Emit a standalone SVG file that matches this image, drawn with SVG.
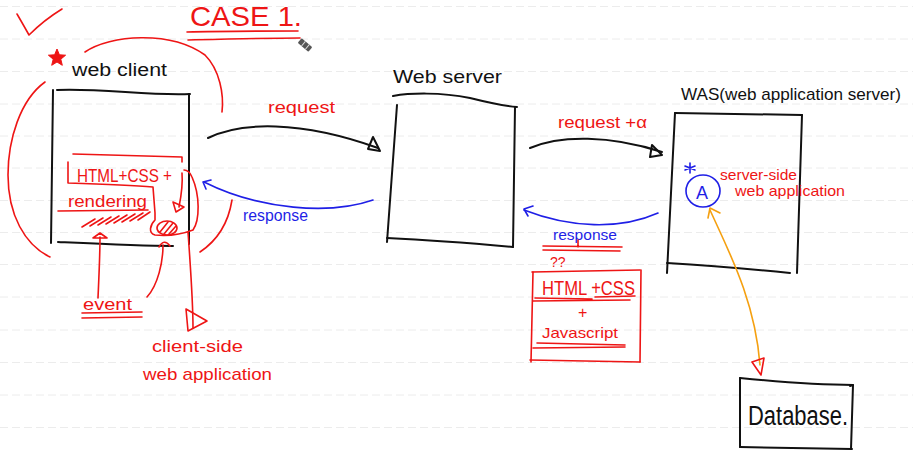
<svg xmlns="http://www.w3.org/2000/svg" width="913" height="459" viewBox="0 0 913 459">
  <style>
    text { font-family: "Liberation Sans", "DejaVu Sans", sans-serif; }
    .ink { fill: none; stroke: #111; stroke-width: 2; stroke-linecap: round; stroke-linejoin: round; }
    .red { fill: none; stroke: #ee1515; stroke-width: 1.6; stroke-linecap: round; stroke-linejoin: round; }
    .blue { fill: none; stroke: #1f1fe6; stroke-width: 1.6; stroke-linecap: round; stroke-linejoin: round; }
    .orange { fill: none; stroke: #f5a010; stroke-width: 1.6; stroke-linecap: round; stroke-linejoin: round; }
    .rule { stroke: #ececec; stroke-width: 1; stroke-dasharray: 8 4; }
    .tk { fill: #111; }
    .tr { fill: #ee1515; }
    .tb { fill: #1f1fe6; }
  </style>

  <rect width="913" height="459" fill="#ffffff"/>

  <!-- ruled notebook lines -->
  <g id="rules">
    <line class="rule" x1="0" y1="6.5" x2="913" y2="6.5"/>
    <line class="rule" x1="0" y1="39" x2="913" y2="39"/>
    <line class="rule" x1="0" y1="71.5" x2="913" y2="71.5"/>
    <line class="rule" x1="0" y1="104" x2="913" y2="104"/>
    <line class="rule" x1="0" y1="136" x2="913" y2="136"/>
    <line class="rule" x1="0" y1="168" x2="913" y2="168"/>
    <line class="rule" x1="0" y1="200.5" x2="913" y2="200.5"/>
    <line class="rule" x1="0" y1="232.5" x2="913" y2="232.5"/>
    <line class="rule" x1="0" y1="264.5" x2="913" y2="264.5"/>
    <line class="rule" x1="0" y1="297" x2="913" y2="297"/>
    <line class="rule" x1="0" y1="330" x2="913" y2="330"/>
    <line class="rule" x1="0" y1="362.5" x2="913" y2="362.5"/>
    <line class="rule" x1="0" y1="395" x2="913" y2="395"/>
    <line class="rule" x1="0" y1="427.5" x2="913" y2="427.5"/>
  </g>

  <!-- heading -->
  <g id="title">
    <path class="red" d="M17,14 Q24,26 29,35 Q44,20 62,9"/>
    <text class="tr" x="190" y="26" font-size="28" textLength="112" lengthAdjust="spacingAndGlyphs">CASE 1.</text>
    <path class="red" d="M187,32 C220,31 260,31 298,31"/>
    <path class="red" d="M188,40 C230,39 270,38 300,38"/>
    <g transform="translate(305,45) rotate(40)">
      <rect x="-7" y="-3" width="14" height="6" rx="1" fill="#555"/>
      <line x1="-2" y1="-3" x2="-2" y2="3" stroke="#ddd" stroke-width="1"/>
      <line x1="3" y1="-3" x2="3" y2="3" stroke="#ddd" stroke-width="1"/>
    </g>
  </g>

  <!-- web client -->
  <g id="web-client">
    <polygon fill="#ee1515" stroke="#ee1515" stroke-width="1" points="57,49 59.4,54.8 65.6,55.2 60.8,59.2 62.3,65.3 57,62 51.7,65.3 53.2,59.2 48.4,55.2 54.6,54.8"/>
    <text class="tk" x="72" y="76" font-size="18" textLength="95" lengthAdjust="spacingAndGlyphs">web client</text>
    <path class="red" d="M85,52 C110,35 170,30 205,55 C220,70 224,95 222,112"/>
    <path class="red" d="M45,82 C20,100 8,140 8,175 C8,215 25,245 50,257"/>
    <path class="red" d="M232,200 C228,225 215,242 200,252"/>
    <path class="ink" d="M57,90 C100,88 150,96 190,94"/>
    <path class="ink" d="M53,90 L51,243"/>
    <path class="ink" d="M189,94 L189,244"/>
    <path class="ink" d="M58,242 C100,244 140,246 173,246"/>
  </g>

  <!-- rendering notes inside the client -->
  <g id="client-rendering">
    <path class="red" d="M73,154 L182,157 L182,162"/>
    <path class="red" d="M68,162 L68,183 C100,184 130,185 153,187 L155,213 L155,220 C150,225 148,233 155,235 C165,236 180,235 193,230 C200,220 200,195 192,177 C190,172 187,170 184,170"/>
    <text class="tr" x="77" y="182" font-size="18" textLength="95" lengthAdjust="spacingAndGlyphs">HTML+CSS +</text>
    <text class="tr" x="68" y="207" font-size="17" textLength="79" lengthAdjust="spacingAndGlyphs">rendering</text>
    <path class="red" d="M58,211 L148,210"/>
    <path class="red" d="M82,227 l13,-8 M90,226 l13,-8 M98,225 l13,-8 M106,224 l13,-8 M114,223 l13,-8 M122,222 l13,-8 M130,221 l13,-8 M138,220 l12,-8"/>
    <path class="red" d="M182,173 C183,185 181,197 179,207"/>
    <path class="red" d="M173,202 L184,207 L176,212 Z"/>
    <ellipse class="red" cx="167" cy="228" rx="10" ry="7"/>
    <path class="red" d="M160,232 L168,222 M164,234 L173,223 M169,234 L176,226"/>
  </g>

  <!-- event labels -->
  <g id="event">
    <text class="tr" x="83" y="310" font-size="17" textLength="49" lengthAdjust="spacingAndGlyphs">event</text>
    <path class="red" d="M82,313 L142,312"/>
    <path class="red" d="M82,318 L142,317"/>
  </g>

  <!-- client-side app label -->
  <g id="client-side-app">
    <text class="tr" x="152" y="352" font-size="17" textLength="91" lengthAdjust="spacingAndGlyphs">client-side</text>
    <text class="tr" x="143" y="380" font-size="17" textLength="129" lengthAdjust="spacingAndGlyphs">web application</text>
  </g>

  <!-- web server -->
  <g id="web-server">
    <text class="tk" x="393" y="83" font-size="19" textLength="109" lengthAdjust="spacingAndGlyphs">Web server</text>
    <path class="ink" d="M393,96 C410,93 440,92 470,98 C490,103 505,106 517,107"/>
    <path class="ink" d="M397,105 L387,242"/>
    <path class="ink" d="M515,107 L513,247"/>
    <path class="ink" d="M387,238 C430,240 480,244 513,247"/>
  </g>

  <!-- web application server -->
  <g id="was">
    <text class="tk" x="681" y="100" font-size="17" textLength="220" lengthAdjust="spacingAndGlyphs">WAS(web application server)</text>
    <path class="ink" d="M675,113 L802,115"/>
    <path class="ink" d="M675,113 L667,273"/>
    <path class="ink" d="M802,115 L797,273"/>
    <path class="ink" d="M667,263 C700,265 760,270 790,273"/>
  </g>

  <!-- server-side app inside the WAS -->
  <g id="server-side-app">
    <ellipse class="blue" cx="703" cy="191" rx="17" ry="16"/>
    <text class="tb" x="696" y="199" font-size="18">A</text>
    <path class="blue" d="M690,163 L690,173 M685,166 L695,170 M685,170 L695,166"/>
    <text class="tr" x="720" y="180" font-size="15" textLength="77" lengthAdjust="spacingAndGlyphs">server-side</text>
    <text class="tr" x="735" y="196" font-size="15" textLength="110" lengthAdjust="spacingAndGlyphs">web application</text>
  </g>

  <!-- response payload -->
  <g id="payload">
    <text class="tr" x="550" y="267" font-size="14">??</text>
    <path class="red" d="M532,272 L640,270"/>
    <path class="red" d="M533,272 L531,362"/>
    <path class="red" d="M641,270 L640,362"/>
    <path class="red" d="M530,360 L640,362"/>
    <text class="tr" x="542" y="295" font-size="20" textLength="93" lengthAdjust="spacingAndGlyphs">HTML +CSS</text>
    <path class="red" d="M535,298 L592,299 M595,297 L635,296 M533,301 L630,300"/>
    <text class="tr" x="578" y="318" font-size="16">+</text>
    <text class="tr" x="542" y="338" font-size="15" textLength="76" lengthAdjust="spacingAndGlyphs">Javascript</text>
    <path class="red" d="M537,343 L625,345 M533,348 L625,347"/>
  </g>

  <!-- database -->
  <g id="database">
    <path class="ink" d="M740,378 C780,382 820,385 853,385"/>
    <path class="ink" d="M740,378 L740,447"/>
    <path class="ink" d="M740,447 L852,449"/>
    <path class="ink" d="M850,386 L853,385 L851,449"/>
    <text class="tk" x="748" y="425" font-size="27" textLength="100" lengthAdjust="spacingAndGlyphs">Database.</text>
  </g>

  <!-- connectors -->
  <g id="connectors">
    <!-- client -> web server -->
    <path class="ink" d="M208,138 C240,122 300,120 378,148"/>
    <path class="ink" d="M373,137 L380,151 L368,149 Z"/>
    <text class="tr" x="268" y="113" font-size="17" textLength="67" lengthAdjust="spacingAndGlyphs">request</text>
    <!-- web server -> client -->
    <path class="blue" d="M373,200 C330,215 260,210 204,182"/>
    <path class="blue" d="M211,180 L203,182 L206,189"/>
    <text class="tb" x="243" y="221" font-size="16" textLength="65" lengthAdjust="spacingAndGlyphs">response</text>
    <!-- web server -> WAS -->
    <path class="ink" d="M530,148 C560,135 610,135 662,152"/>
    <path class="ink" d="M652,145 L662,155 L650,157 Z"/>
    <text class="tr" x="558" y="128" font-size="17" textLength="89" lengthAdjust="spacingAndGlyphs">request +α</text>
    <!-- WAS -> web server -->
    <path class="blue" d="M658,213 C620,230 570,228 524,210"/>
    <path class="blue" d="M533,206 L524,209 L528,216"/>
    <text class="tb" x="553" y="240" font-size="15" textLength="64" lengthAdjust="spacingAndGlyphs">response</text>
    <path class="red" d="M543,246 L622,247 M543,250 L620,251 M578,240 L578,247"/>
    <!-- events -> client -->
    <path class="red" d="M98,298 C99,275 100,255 100,237"/>
    <path class="red" d="M93,238 L100,233 L107,238 Z"/>
    <path class="red" d="M147,297 C158,285 163,262 163,245"/>
    <path class="red" d="M159,247 Q164,238 170,246"/>
    <!-- client -> client-side app -->
    <path class="red" d="M188,232 C190,260 193,300 193,328"/>
    <path class="red" d="M186,309 L188,331 L207,321 Z"/>
    <!-- server-side app <-> database -->
    <path class="orange" d="M710,210 C728,250 755,300 760,365"/>
    <path class="orange" d="M708,218 L710,208 L720,213"/>
    <path class="red" d="M752,362 L764,358 L761,375 Z"/>
  </g>
</svg>
